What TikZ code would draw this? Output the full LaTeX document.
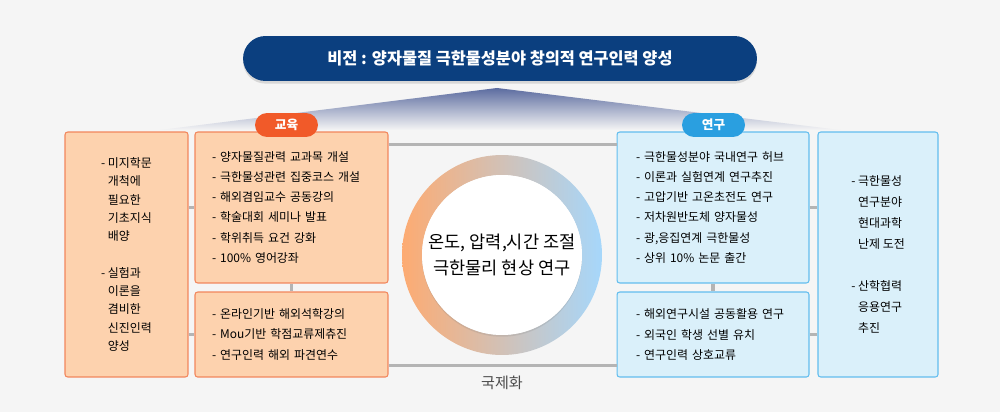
\documentclass[tikz,border=0pt]{standalone}
\usepackage{fontspec}
\setmainfont{Noto Sans CJK KR}
\usepackage{xcolor}
\usepackage{tikz}
\usetikzlibrary{calc,shadows}
\definecolor{VisionNavy}{HTML}{0B3F7F}
\definecolor{RoofBlue}{HTML}{5C6CA0}
\definecolor{PageGray}{HTML}{F5F5F5}
\definecolor{EduFill}{HTML}{FDD2AE}
\definecolor{EduLine}{HTML}{F2865C}
\definecolor{EduBadge}{HTML}{F15A29}
\definecolor{ResFill}{HTML}{DAF0FA}
\definecolor{ResLine}{HTML}{62BDEE}
\definecolor{ResBadge}{HTML}{2A9FE0}
\definecolor{LinkGray}{HTML}{B4B4B4}
\definecolor{RingOrange}{HTML}{FDAB72}
\definecolor{RingMid}{HTML}{CCC8D4}
\definecolor{RingBlue}{HTML}{A6D7FB}
\newcommand\hangdash{\hphantom{- }}

\begin{document}
\begin{tikzpicture}[x=0.02cm,y=-0.02cm,
  box/.style={rounded corners=1.5pt,line width=0.6pt,align=left,inner sep=0pt},
  edu/.style={box,draw=EduLine,fill=EduFill},
  res/.style={box,draw=ResLine,fill=ResFill},
  txt/.style={font=\fontsize{6.8}{11.4}\selectfont},
  link/.style={draw=LinkGray,line width=2.2pt},
  tag/.style={rounded corners=0.24cm,minimum width=1.26cm,minimum height=0.48cm,inner sep=0pt,
    text=white,font=\bfseries\fontsize{7.2}{8}\selectfont}]
  \fill[PageGray] (0,0) rectangle (1000,412);
  \useasboundingbox (0,0) rectangle (1000,412);
  \shade[top color=RoofBlue,bottom color=PageGray] (497,88) -- (840,130) -- (160,130) -- cycle;
  \node[fill=VisionNavy,rounded corners=0.45cm,minimum width=10.28cm,minimum height=0.9cm,
    text=white,font=\bfseries\fontsize{9.3}{10}\selectfont,
    drop shadow={opacity=0.25,shadow xshift=0pt,shadow yshift=-1.5pt}] (vision) at (500,58.5)
    {비전 : 양자물질 극한물성분야 창의적 연구인력 양성};

  \node[edu,minimum width=2.46cm,minimum height=4.9cm,font=\fontsize{6.8}{10.4}\selectfont] (basis) at (126.5,254.5)
    {- 미지학문\\ \hangdash 개척에\\ \hangdash 필요한\\ \hangdash 기초지식\\ \hangdash 배양\\[10.4pt]
     - 실험과\\ \hangdash 이론을\\ \hangdash 겸비한\\ \hangdash 신진인력\\ \hangdash 양성};
  \node[edu,txt,minimum width=3.86cm,minimum height=3.02cm,text width=3.18cm] (eduA) at (291.5,207.5)
    {- 양자물질관력 교과목 개설\\ - 극한물성관련 집중코스 개설\\ - 해외겸임교수 공동강의\\
     - 학술대회 세미나 발표\\ - 학위취득 요건 강화\\ - 100\% 영어강좌};
  \node[edu,txt,minimum width=3.86cm,minimum height=1.7cm,text width=3.18cm] (eduB) at (291.5,334.5)
    {- 온라인기반 해외석학강의\\ - Mou기반 학점교류제츄진\\ - 연구인력 해외 파견연수};

  \node[res,txt,minimum width=3.84cm,minimum height=3.02cm,text width=3.08cm] (resA) at (713,207.5)
    {- 극한물성분야 국내연구 허브\\ - 이론과 실험연계 연구추진\\ - 고압기반 고온초전도 연구\\
     - 저차원반도체 양자물성\\ - 광,응집연계 극한물성\\ - 상위 10\% 논문 출간};
  \node[res,txt,minimum width=3.84cm,minimum height=1.7cm,text width=3.08cm] (resB) at (713,334.5)
    {- 해외연구시설 공동활용 연구\\ - 외국인 학생 선별 유치\\ - 연구인력 상호교류};
  \node[res,minimum width=2.4cm,minimum height=4.9cm,font=\fontsize{6.8}{11.9}\selectfont] (frontier) at (878,254.5)
    {- 극한물성\\ \hangdash 연구분야\\ \hangdash 현대과학\\ \hangdash 난제 도전\\[11.9pt]
     - 산학협력\\ \hangdash 응용연구\\ \hangdash 추진};

  \draw[link] (basis.east |- eduA.west) -- (eduA.west);
  \draw[link] (basis.east |- eduB.west) -- (eduB.west);
  \draw[link] (eduA.south) -- (eduB.north);
  \draw[link] (resA.east) -- (frontier.west |- resA.east);
  \draw[link] (resB.east) -- (frontier.west |- resB.east);
  \draw[link] (resA.south) -- (resB.north);
  \draw[link] ($(eduA.north east)+(0,13)$) -- ($(resA.north west)+(0,13)$);
  \draw[link] ($(eduB.south east)+(0,-12)$) -- ($(resB.south west)+(0,-12)$);

  \node[tag,fill=EduBadge] (eduTag) at (286.5,125) {교육};
  \node[tag,fill=ResBadge] (resTag) at (713.5,125) {연구};

  \coordinate (hub) at (502,255);
  \shade[even odd rule,left color=RingOrange,middle color=RingMid,right color=RingBlue]
    (hub) circle[radius=2cm] (hub) circle[radius=1.6cm];
  \node[circle,fill=white,minimum size=3.2cm,inner sep=0pt,
    drop shadow={opacity=0.2,shadow xshift=0pt,shadow yshift=-1pt}] (core) at (hub) {};
  \node[align=center,font=\fontsize{10}{15}\selectfont] (theme) at (core)
    {온도, 압력,시간 조절\\ 극한물리 현상 연구};

  \node[text=black!70,font=\fontsize{8.6}{10}\selectfont] (global) at (502,383) {국제화};
\end{tikzpicture}
\end{document}
